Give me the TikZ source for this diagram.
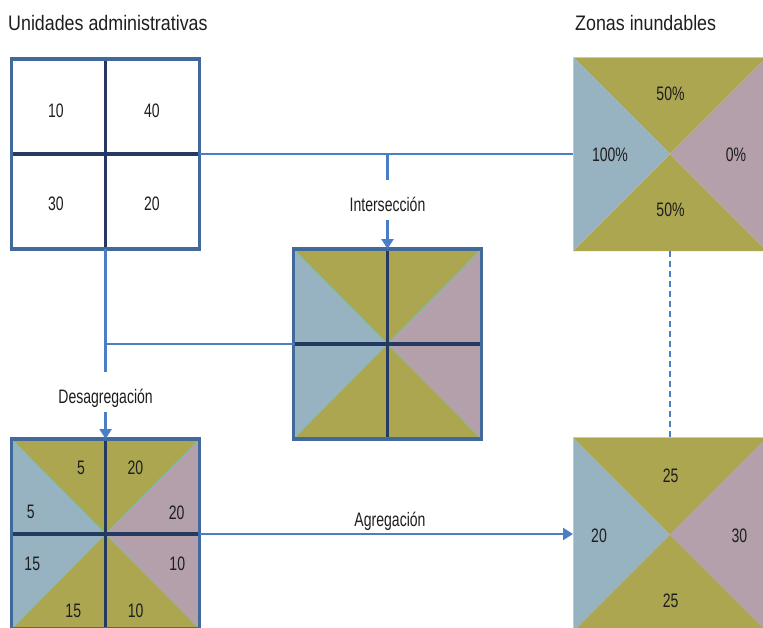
\documentclass[tikz,border=0pt]{standalone}
\usepackage{fontspec}
\setmainfont{Liberation Sans}
\newfontfamily\labf[FakeStretch=0.72]{Liberation Sans}
\newfontfamily\titf[FakeStretch=0.85]{Liberation Sans}
\usetikzlibrary{arrows.meta,calc}
\definecolor{olv}{HTML}{ADA650}
\definecolor{blg}{HTML}{97B2C0}
\definecolor{pkg}{HTML}{B3A0AA}
\definecolor{brd}{HTML}{41699B}
\definecolor{inn}{HTML}{243A60}
\definecolor{conn}{HTML}{4A7EC5}
\definecolor{txt}{HTML}{1E1E1E}
\definecolor{dgl}{HTML}{7DBFA5}
\newcommand\myquadfill[1]{%
  \fill[olv] (#1.north west) -- (#1.north east) -- (#1.center) -- cycle;
  \fill[olv] (#1.south west) -- (#1.south east) -- (#1.center) -- cycle;
  \fill[blg] (#1.north west) -- (#1.south west) -- (#1.center) -- cycle;
  \fill[pkg] (#1.north east) -- (#1.south east) -- (#1.center) -- cycle;}
\newcommand\mygridlines[1]{%
  \draw[innerline] (#1.north) -- (#1.south);
  \draw[innerline] (#1.west) -- (#1.east);
  \draw[outerline] (#1.north west) rectangle (#1.south east);}
\begin{document}
\begin{tikzpicture}[x=1pt,y=-1pt,
  area/.style={inner sep=0pt,outer sep=0pt,minimum width=188pt,minimum height=190pt},
  zone/.style={inner sep=0pt,outer sep=0pt,minimum width=194pt,minimum height=194pt},
  innerline/.style={draw=inn,line width=3.5pt},
  outerline/.style={draw=brd,line width=3.5pt},
  diagline/.style={draw=dgl,line width=0.6pt},
  zoneline/.style={draw=brd!35,line width=0.8pt},
  conline/.style={draw=conn,line width=2.3pt},
  arrowline/.style={conline,-{Triangle[width=12pt,length=10pt]}},
  num/.style={font={\fontsize{19.5}{20}\labf},text=txt,inner sep=0pt,text height=14pt,text depth=0pt},
  lab/.style={font={\fontsize{19.5}{20}\labf},text=txt,inner xsep=2pt,inner ysep=9pt,text height=22pt,text depth=0pt,anchor=base},
  title/.style={font={\fontsize{21}{22}\titf},text=txt,inner sep=0pt,anchor=base west}]
\useasboundingbox (0,0) rectangle (763,627);
\clip (0,0) rectangle (763,627);
\fill[white] (0,0) rectangle (763,627);

% titles
\node[title] (t1) at (8,30) {Unidades administrativas};
\node[title] (t2) at (575,30) {Zonas inundables};

% areas (placeholders)
\node[area] (ua) at (105.6,154) {};
\node[area] (int) at (387.5,344) {};
\node[area] (dis) at (105.6,534) {};
\node[zone] (zi) at (670,154) {};
\node[zone] (za) at (670,534.5) {};

% fills
\myquadfill{zi}
\myquadfill{za}
\myquadfill{int}
\myquadfill{dis}
\draw[zoneline] (zi.south west) -- (zi.north west) -- (zi.north east);
\draw[zoneline] (za.south west) -- (za.north west) -- (za.north east);
\foreach \g in {int,dis}{
  \draw[diagline] (\g.north west) -- (\g.south east);
  \draw[diagline] (\g.north east) -- (\g.south west);
}
\mygridlines{ua}
\mygridlines{int}
\mygridlines{dis}

% numbers: unidades administrativas
\node[num] (a1) at (56,110.5) {10};
\node[num] (a2) at (152,110.5) {40};
\node[num] (a3) at (56,203.5) {30};
\node[num] (a4) at (152,203.5) {20};

% numbers: zonas inundables
\node[num] (z1) at (670.5,93.5) {50\%};
\node[num] (z2) at (610,154) {100\%};
\node[num] (z3) at (736,154) {0\%};
\node[num] (z4) at (670.5,209) {50\%};

% numbers: desagregacion
\node[num] (d1) at (81,467.5) {5};
\node[num] (d2) at (135.5,467.5) {20};
\node[num] (d3) at (30.7,511) {5};
\node[num] (d4) at (176.7,512) {20};
\node[num] (d5) at (32.3,563.3) {15};
\node[num] (d6) at (177.3,563.3) {10};
\node[num] (d7) at (73.3,610.7) {15};
\node[num] (d8) at (135.7,610.7) {10};

% numbers: agregacion
\node[num] (g1) at (670.7,475) {25};
\node[num] (g2) at (599,535.5) {20};
\node[num] (g3) at (739.3,535.5) {30};
\node[num] (g4) at (670.7,600.7) {25};

% labels
\node[lab] (lint) at (387.5,211) {Intersección};
\node[lab] (ldes) at (105.6,403) {Desagregación};
\node[lab] (lagr) at (390,526) {Agregación};

% connectors
\coordinate (j1) at (387.5,154);
\coordinate (j2) at (105.6,344);
\draw[conline] (ua.east) -- (zi.west);
\draw[conline] (j1) -- (lint.north);
\draw[arrowline] (lint.south) -- (int.north);
\draw[conline] (ua.south) -- (ldes.north);
\draw[conline] (j2) -- (int.west);
\draw[arrowline] (ldes.south) -- (dis.north);
\draw[arrowline] (dis.east) -- (dis.east -| za.west);
\draw[conline,dash pattern=on 6pt off 4pt] (zi.south) -- (za.north);
\end{tikzpicture}
\end{document}
